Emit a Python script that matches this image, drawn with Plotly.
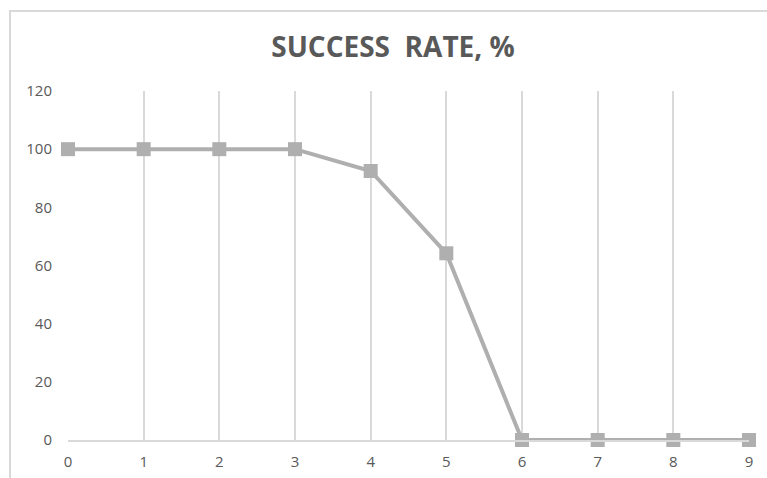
import plotly.graph_objects as go

attempts = [0, 1, 2, 3, 4, 5, 6, 7, 8, 9]
success_rate = [100, 100, 100, 100, 92.5, 64.2, 0, 0, 0, 0]
y_ticks = [0, 20, 40, 60, 80, 100, 120]
title_text = "SUCCESS  RATE, %"

W, H = 767, 478
L, R, T, B = 68, 18, 91, 38
pw, ph = W - L - R, H - T - B

fig = go.Figure()
fig.add_trace(go.Scatter(
    x=attempts, y=success_rate, mode="lines+markers",
    line=dict(color="#afafaf", width=4),
    marker=dict(symbol="square", size=14, color="#afafaf"),
    cliponaxis=False, showlegend=False,
))

fig.update_layout(
    width=W, height=H,
    margin=dict(l=L, r=R, t=T, b=B, autoexpand=False),
    paper_bgcolor="white", plot_bgcolor="white",
    title=dict(text="<b>" + title_text + "</b>", x=393 / W, xanchor="center",
               y=1 - 47 / H, yanchor="middle", yref="container",
               font=dict(family="Open Sans", size=28, color="#595959")),
    font=dict(family="Open Sans", size=15, color="#595959"),
)
fig.update_xaxes(
    range=[0, 9], tickvals=attempts, ticktext=[str(a) for a in attempts],
    showgrid=True, gridcolor="#d9d9d9", gridwidth=1.5,
    showline=True, linecolor="#d9d9d9", linewidth=2,
    zeroline=False, ticks="outside", ticklen=7, tickcolor="rgba(0,0,0,0)",
    tickfont=dict(size=15, color="#595959"), automargin=False,
)
fig.update_yaxes(
    range=[0, 120], tickvals=y_ticks,
    showgrid=False, zeroline=False, showline=False,
    ticks="outside", ticklen=12, tickcolor="rgba(0,0,0,0)",
    tickfont=dict(size=15, color="#595959"), automargin=False,
)

# chart border
fig.add_shape(type="rect", xref="paper", yref="paper",
              x0=(10 - L) / pw, x1=1.2, y0=-0.3, y1=(H - B - 11) / ph,
              line=dict(color="#d9d9d9", width=2), layer="below")

fig.write_html("out.html")
